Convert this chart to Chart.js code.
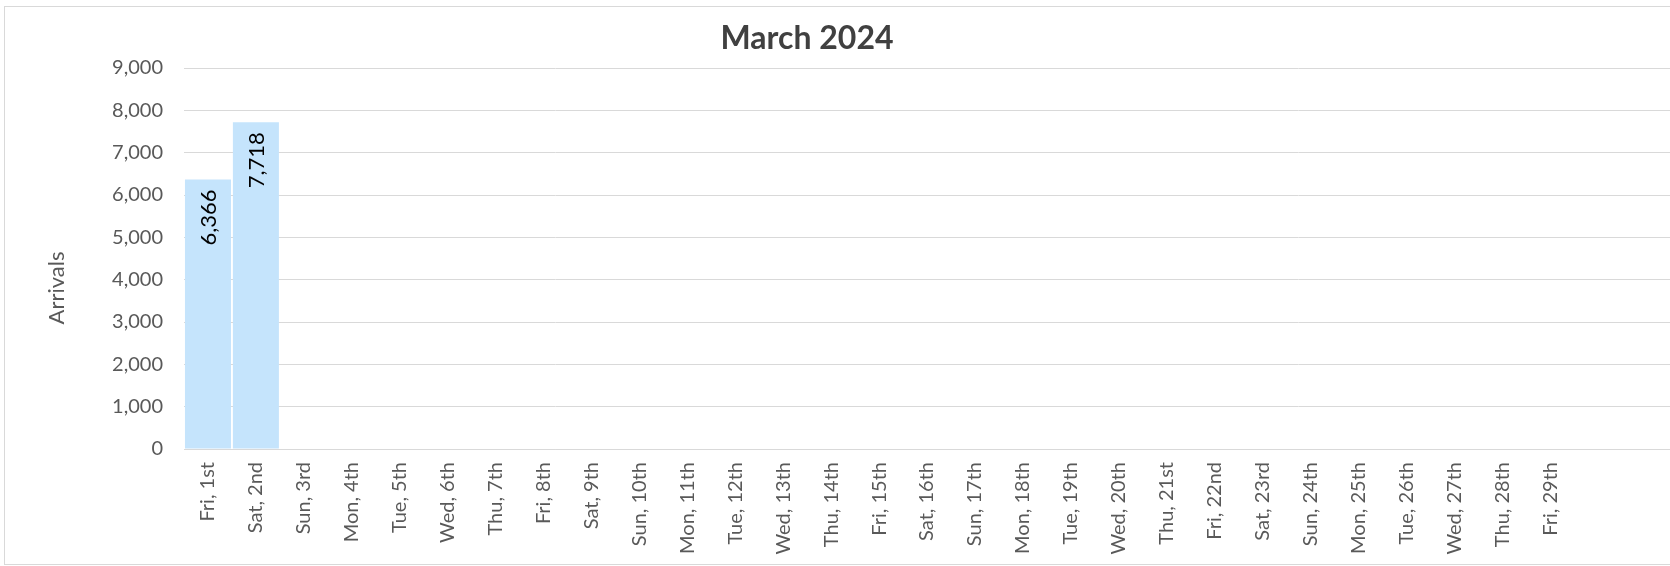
<!DOCTYPE html>
<html>
<head>
<meta charset="utf-8">
<script src="https://cdn.jsdelivr.net/npm/chart.js@4.4.1/dist/chart.umd.min.js"></script>
<style>
  html, body { margin: 0; padding: 0; background: #fff; overflow: hidden; }
  #wrap { position: relative; width: 1670px; height: 566px; }
  #frame { position: absolute; left: 4px; top: 6px; width: 1720px; height: 559px; border: 1px solid #d9d9d9; box-sizing: border-box; }
  canvas { position: absolute; left: 0; top: 0; }
</style>
</head>
<body>
<div id="wrap">
  <div id="frame"></div>
  <canvas id="chart-1" width="1670" height="566"></canvas>
</div>
<script>
// ====== data ======
const chartTitle = 'March 2024';
const axisTitle = 'Arrivals';

const days = [
  'Fri, 1st', 'Sat, 2nd', 'Sun, 3rd', 'Mon, 4th', 'Tue, 5th', 'Wed, 6th', 'Thu, 7th',
  'Fri, 8th', 'Sat, 9th', 'Sun, 10th', 'Mon, 11th', 'Tue, 12th', 'Wed, 13th', 'Thu, 14th',
  'Fri, 15th', 'Sat, 16th', 'Sun, 17th', 'Mon, 18th', 'Tue, 19th', 'Wed, 20th', 'Thu, 21st',
  'Fri, 22nd', 'Sat, 23rd', 'Sun, 24th', 'Mon, 25th', 'Tue, 26th', 'Wed, 27th', 'Thu, 28th',
  'Fri, 29th', '', ''
];

// only the first two days have arrivals so far
const arrivals = [
  6366, 7718, null, null, null, null, null,
  null, null, null, null, null, null, null,
  null, null, null, null, null, null, null,
  null, null, null, null, null, null, null,
  null, null, null
];

const yMin = 0;
const yMax = 9000;
const yStep = 1000;

const fmt = v => v.toLocaleString('en-US');

// chart title + y axis title drawn by hand (positions as in the sheet)
const titlePlugin = {
  id: 'titleText',
  afterDraw(chart) {
    const c = chart.ctx;
    c.save();
    c.font = 'bold 32px Lato';
    c.fillStyle = '#404040';
    c.textAlign = 'center';
    c.textBaseline = 'middle';
    c.fillText(chartTitle, 807, 39);

    c.translate(57, 288);
    c.rotate(-Math.PI / 2);
    c.font = '22px Lato';
    c.fillStyle = '#595959';
    c.fillText(axisTitle, 0, 0);
    c.restore();
  }
};

// value labels inside the top of each bar, rotated -90°
const barLabels = {
  id: 'barLabels',
  afterDatasetsDraw(chart) {
    const c = chart.ctx;
    const meta = chart.getDatasetMeta(0);
    meta.data.forEach((bar, i) => {
      const v = arrivals[i];
      if (v == null) return;
      c.save();
      c.translate(bar.x, bar.y + 10);
      c.rotate(-Math.PI / 2);
      c.font = '22px Lato';
      c.fillStyle = '#000';
      c.textAlign = 'right';
      c.textBaseline = 'middle';
      c.fillText(fmt(v), 0, 1);
      c.restore();
    });
  }
};

const ctx1 = document.getElementById('chart-1');

new Chart(ctx1, {
  type: 'bar',
  data: {
    labels: days,
    datasets: [{
      label: 'Arrivals',
      data: arrivals,
      backgroundColor: '#c5e4fc',
      borderWidth: 0,
      barPercentage: 0.96,
      categoryPercentage: 1
    }]
  },
  options: {
    responsive: false,
    animation: false,
    layout: {
      padding: { left: 44, top: 68, right: -3, bottom: 0 }
    },
    plugins: {
      legend: { display: false },
      title: { display: false },
      tooltip: { enabled: false }
    },
    scales: {
      x: {
        grid: { display: false, drawTicks: false },
        border: { display: true, color: '#d9d9d9', width: 1 },
        ticks: {
          color: '#595959',
          font: { family: 'Lato', size: 20 },
          autoSkip: false,
          maxRotation: 90,
          minRotation: 90,
          padding: 13
        },
        afterFit(scale) {
          scale.height = 117;
          scale.paddingLeft = 0;
          scale.paddingRight = 0;
        }
      },
      y: {
        min: yMin,
        max: yMax,
        grid: { color: '#d9d9d9', lineWidth: 1, drawTicks: false },
        border: { display: false },
        ticks: {
          stepSize: yStep,
          color: '#595959',
          font: { family: 'Lato', size: 20 },
          padding: 21,
          callback: v => fmt(v)
        },
        afterFit(scale) { scale.width = 140; }
      }
    }
  },
  plugins: [titlePlugin, barLabels]
});
</script>
</body>
</html>
